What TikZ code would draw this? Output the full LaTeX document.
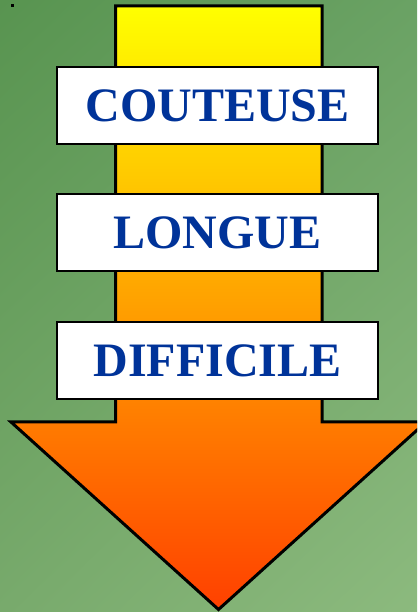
\documentclass[tikz,border=0pt]{standalone}
\usepackage{fontspec}
\setmainfont{Liberation Serif}
\usetikzlibrary{shadings}
\definecolor{bgA}{RGB}{88,148,80}
\definecolor{bgB}{RGB}{106,162,100}
\definecolor{bgC}{RGB}{120,170,108}
\definecolor{bgD}{RGB}{140,186,126}
\definecolor{arrowtop}{RGB}{255,255,0}
\definecolor{arrowbot}{RGB}{255,64,0}
\definecolor{wordblue}{RGB}{0,51,153}
\tikzset{
  wordbox/.style={draw=black, line width=2.5pt, fill=white, minimum width=321pt, minimum height=77pt,
    inner sep=0pt, text=wordblue, font=\fontsize{48}{48}\selectfont\bfseries},
  bigarrow/.style={draw=black, line width=3pt, line join=miter, top color=arrowtop, bottom color=arrowbot}
}
\newcommand{\lowered}[1]{\raisebox{-2pt}{#1}}
\begin{document}
\begin{tikzpicture}[x=1pt,y=1pt]
\useasboundingbox (0,0) rectangle (417,612);
\begin{scope}
\clip (0,0) rectangle (417,612);
\shade[upper left=bgA, upper right=bgB, lower left=bgC, lower right=bgD] (0,0) rectangle (417,612);
\fill[black] (11,605) rectangle (13.5,607.5);
\path[bigarrow] (115.5,606) -- (322,606) -- (322,190) -- (426,190) -- (218.5,2.5) -- (11,190) -- (115.5,190) -- cycle;
\end{scope}
\node[wordbox] (c) at (217.5,506.5) {\lowered{COUTEUSE}};
\node[wordbox] (l) at (217.5,379.5) {\lowered{LONGUE}};
\node[wordbox] (d) at (217.5,251.5) {\lowered{DIFFICILE}};
\end{tikzpicture}
\end{document}
